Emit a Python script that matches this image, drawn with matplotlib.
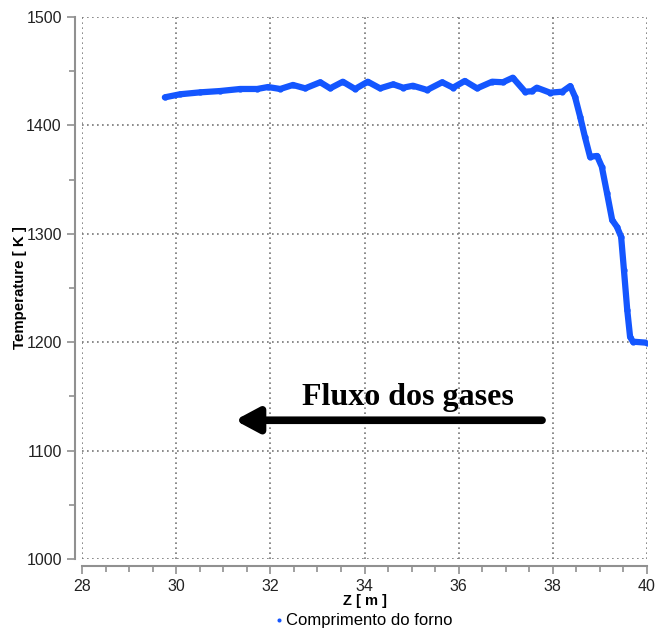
import matplotlib.pyplot as plt
from matplotlib.ticker import MultipleLocator

# curve
z = [29.76, 30.08, 30.51, 30.93, 31.36, 31.72, 31.95, 32.21, 32.48, 32.74,
     33.06, 33.27, 33.54, 33.80, 34.07, 34.33, 34.61, 34.82, 35.03, 35.33,
     35.65, 35.88, 36.13, 36.39, 36.71, 36.94, 37.15, 37.41, 37.55, 37.66,
     37.94, 38.20, 38.37, 38.47, 38.58, 38.68, 38.79, 38.94, 39.04, 39.15,
     39.26, 39.36, 39.45, 39.51, 39.58, 39.64, 39.70, 40.0]
temp = [1425.9, 1428.7, 1430.5, 1431.7, 1433.6, 1433.6, 1435.4, 1433.6, 1437.3, 1434.2,
        1439.8, 1434.2, 1440.3, 1433.6, 1440.3, 1434.2, 1437.9, 1434.8, 1436.6, 1432.7,
        1439.8, 1434.8, 1441.0, 1434.2, 1440.3, 1439.8, 1444.0, 1431.1, 1431.5, 1434.8,
        1430.2, 1431.1, 1436.3, 1426.5, 1408.0, 1389.6, 1371.1, 1371.8, 1361.9, 1337.6,
        1312.7, 1306.5, 1297.3, 1266.6, 1229.7, 1205.1, 1200.5, 1199.5]

x_ticks = [28, 30, 32, 34, 36, 38, 40]
y_ticks = [1000, 1100, 1200, 1300, 1400, 1500]

plt.rcParams['font.family'] = 'Liberation Sans'

fig = plt.figure(figsize=(6.57, 6.32), dpi=100)
ax = fig.add_axes([0.1248, 0.1155, 0.86, 0.8576])

blue = '#1456ff'
ax.plot(z, temp, color=blue, linewidth=4.5, marker='o', markersize=3.5,
        solid_capstyle='round', solid_joinstyle='round', label='Comprimento do forno')

ax.set_xlim(28, 40)
ax.set_ylim(1000, 1500)
ax.set_xticks(x_ticks)
ax.set_yticks(y_ticks)
ax.xaxis.set_minor_locator(MultipleLocator(0.5))
ax.yaxis.set_minor_locator(MultipleLocator(50))

ax.grid(True, which='major', color='#777777', linestyle=(0, (1, 2)), linewidth=1.2)
for s in ['top', 'right']:
    ax.spines[s].set_visible(False)
for s in ['left', 'bottom']:
    ax.spines[s].set_position(('outward', 5))
    ax.spines[s].set_color('#909090')
    ax.spines[s].set_linewidth(1.5)

ax.tick_params(which='major', length=6, width=1.2, color='#909090', labelsize=11.5, labelcolor='#222222')
ax.tick_params(which='minor', length=4, width=1.2, color='#909090')

ax.set_xlabel('Z [ m ]', fontsize=10.5, fontweight='bold', labelpad=0)
ax.set_ylabel('Temperature [ K ]', fontsize=10.8, fontweight='bold')
ax.yaxis.set_label_coords(-0.097, 0.5)

leg = ax.legend(loc='upper center', bbox_to_anchor=(0.5, -0.079), frameon=False,
                fontsize=12, markerscale=0.55, handlelength=0.3, handletextpad=0.3,
                borderpad=0.2)
for h in leg.get_lines():
    h.set_linewidth(0)

# arrow for the gas flow
ax.annotate('', xy=(31.19, 1128), xytext=(37.83, 1128),
            arrowprops=dict(arrowstyle='-|>,head_length=1.4,head_width=0.75',
                            color='black', linewidth=5.5))
ax.text(34.92, 1142, 'Fluxo dos gases', fontsize=23, fontweight='bold',
        family='Liberation Serif', ha='center', va='baseline')

plt.savefig('out.png', dpi=100)
